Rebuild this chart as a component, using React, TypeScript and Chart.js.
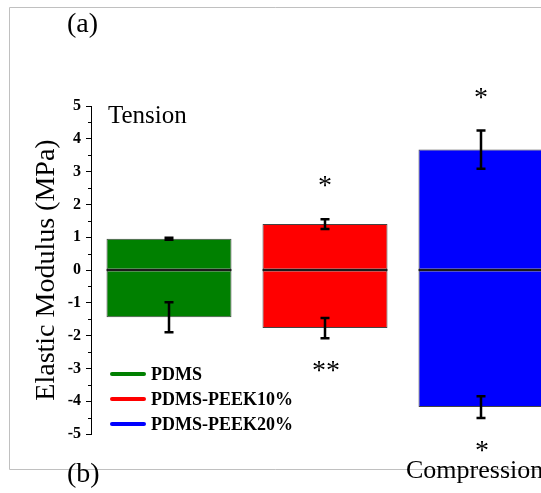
import { useEffect, useRef } from 'react';
import { Chart, registerables } from 'chart.js';

Chart.register(...registerables);

const categories = ['PDMS', 'PDMS-PEEK10%', 'PDMS-PEEK20%'];
const tensionModulus = [0.95, 1.4, 3.67];
const tensionError = [0.03, 0.15, 0.58];
const compressionModulus = [-1.44, -1.77, -4.18];
const compressionError = [0.46, 0.31, 0.33];
const tensionSignificance = ['', '*', '*'];
const compressionSignificance = ['', '**', '*'];
const barColors = ['#008000', '#ff0000', '#0000ff'];
const yMin = -5;
const yMax = 5;
const yStep = 1;

const SERIF = "'Liberation Serif', 'Times New Roman', serif";

const W = 541;
const H = 493;

const decorPlugin = {
  id: 'decor',
  beforeDraw(chart: any) {
    const ctx = chart.ctx;
    ctx.save();
    ctx.fillStyle = '#ffffff';
    ctx.fillRect(0, 0, chart.width, chart.height);
    ctx.strokeStyle = '#c0c0c0';
    ctx.lineWidth = 1;
    ctx.beginPath();
    ctx.moveTo(chart.width, 7.5);
    ctx.lineTo(9.5, 7.5);
    ctx.lineTo(9.5, 469.5);
    ctx.lineTo(chart.width, 469.5);
    ctx.stroke();
    ctx.restore();
  },
  afterDatasetsDraw(chart: any) {
    const ctx = chart.ctx;
    const xs = chart.scales.x;
    const ys = chart.scales.y;
    const area = chart.chartArea;
    ctx.save();
    // zero line across each bar
    ctx.beginPath();
    ctx.rect(area.left, area.top, area.right - area.left, area.bottom - area.top);
    ctx.clip();
    const meta = chart.getDatasetMeta(0);
    const y0 = Math.round(ys.getPixelForValue(0));
    ctx.strokeStyle = '#1a1a1a';
    ctx.lineWidth = 2;
    meta.data.forEach((bar: any) => {
      const { x, width } = bar.getProps(['x', 'width'], true);
      ctx.beginPath();
      ctx.moveTo(x - width / 2, y0);
      ctx.lineTo(x + width / 2, y0);
      ctx.stroke();
    });
    ctx.restore();
    ctx.save();
    ctx.strokeStyle = '#000';
    ctx.lineWidth = 2.5;
    ctx.lineCap = 'butt';
    const cap = 4.5;
    const drawErr = (x: number, v: number, e: number) => {
      const y1 = ys.getPixelForValue(v + e);
      const y2 = ys.getPixelForValue(v - e);
      ctx.beginPath();
      ctx.moveTo(x, y1);
      ctx.lineTo(x, y2);
      ctx.moveTo(x - cap, y1);
      ctx.lineTo(x + cap, y1);
      ctx.moveTo(x - cap, y2);
      ctx.lineTo(x + cap, y2);
      ctx.stroke();
    };
    categories.forEach((_, i) => {
      const x = xs.getPixelForValue(i);
      drawErr(x, tensionModulus[i], tensionError[i]);
      drawErr(x, compressionModulus[i], compressionError[i]);
    });
    ctx.restore();
  },
  afterDraw(chart: any) {
    const ctx = chart.ctx;
    const xs = chart.scales.x;
    const ys = chart.scales.y;
    const area = chart.chartArea;
    ctx.save();
    // minor ticks
    ctx.strokeStyle = '#000';
    ctx.lineWidth = 1;
    for (let v = yMin + yStep / 2; v < yMax; v += yStep) {
      const y = Math.round(ys.getPixelForValue(v)) + 0.5;
      ctx.beginPath();
      ctx.moveTo(area.left - 3, y);
      ctx.lineTo(area.left, y);
      ctx.stroke();
    }
    // significance stars
    ctx.fillStyle = '#000';
    ctx.textAlign = 'center';
    ctx.textBaseline = 'alphabetic';
    const starSize = 28;
    ctx.font = `${starSize}px ${SERIF}`;
    categories.forEach((_, i) => {
      const x = xs.getPixelForValue(i);
      if (tensionSignificance[i]) {
        const c = ys.getPixelForValue(tensionModulus[i] + tensionError[i]) - 38;
        ctx.fillText(tensionSignificance[i], x, c + 0.47 * starSize);
      }
      if (compressionSignificance[i]) {
        const c = ys.getPixelForValue(compressionModulus[i] - compressionError[i]) + 28;
        ctx.fillText(compressionSignificance[i], x + 1, c + 0.47 * starSize);
      }
    });
    // texts
    ctx.textAlign = 'left';
    ctx.font = `25px ${SERIF}`;
    ctx.fillText('Tension', area.left + 17, 123);
    ctx.font = `26px ${SERIF}`;
    ctx.fillText('Compression', 406, 478);
    ctx.font = `28px ${SERIF}`;
    ctx.fillText('(a)', 67, 32);
    ctx.fillText('(b)', 67, 482);
    // legend
    ctx.font = `bold 18px ${SERIF}`;
    ctx.textBaseline = 'middle';
    const legendY = [374, 399, 424];
    categories.forEach((name, i) => {
      ctx.strokeStyle = barColors[i];
      ctx.lineWidth = 4;
      ctx.lineCap = 'round';
      ctx.beginPath();
      ctx.moveTo(area.left + 21, legendY[i]);
      ctx.lineTo(area.left + 53, legendY[i]);
      ctx.stroke();
      ctx.fillStyle = '#000';
      ctx.fillText(name, area.left + 60, legendY[i] + 1);
    });
    // y title
    ctx.save();
    ctx.translate(47, (area.top + area.bottom) / 2);
    ctx.rotate(-Math.PI / 2);
    ctx.textAlign = 'center';
    ctx.textBaseline = 'middle';
    ctx.font = `28px ${SERIF}`;
    ctx.fillStyle = '#000';
    ctx.fillText('Elastic Modulus (MPa)', 0, 0);
    ctx.restore();
    ctx.restore();
  },
};

export default function App() {
  const ref = useRef<HTMLCanvasElement | null>(null);
  useEffect(() => {
    if (!ref.current) return;
    const barStyle = {
      backgroundColor: barColors,
      borderColor: '#444444',
      borderWidth: 1,
      borderSkipped: false,
      barThickness: 125,
      inflateAmount: 0,
    };
    const chart = new Chart(ref.current, {
      type: 'bar',
      data: {
        datasets: [
          {
            label: 'Tension',
            data: tensionModulus.map((v, i) => ({ x: i, y: v })),
            ...barStyle,
          },
          {
            label: 'Compression',
            data: compressionModulus.map((v, i) => ({ x: i, y: v })),
            ...barStyle,
          },
        ],
      },
      options: {
        responsive: false,
        animation: false,
        devicePixelRatio: 1,
        layout: { padding: { left: 0, right: 0, top: 106, bottom: 59 } },
        plugins: { legend: { display: false }, tooltip: { enabled: false } },
        scales: {
          x: {
            type: 'linear',
            display: false,
            stacked: true,
            offset: false,
            grid: { offset: false },
            min: -0.5,
            max: -0.5 + 450 / 156,
          },
          y: {
            stacked: true,
            min: yMin,
            max: yMax,
            afterFit(scale: any) {
              scale.width = 91;
            },
            ticks: {
              stepSize: yStep,
              color: '#000',
              padding: 5,
              font: { family: 'Liberation Serif', size: 16, weight: 'bold' },
            },
            grid: {
              drawOnChartArea: false,
              drawTicks: true,
              tickLength: 5,
              color: '#000',
            },
            border: { display: true, color: '#000', width: 1 },
          },
        },
      },
      plugins: [decorPlugin],
    } as any);
    return () => chart.destroy();
  }, []);
  return (
    <div style={{ position: 'absolute', left: 0, top: 0, width: W, height: H }}>
      <canvas ref={ref} width={W} height={H} style={{ width: W, height: H }} />
    </div>
  );
}
